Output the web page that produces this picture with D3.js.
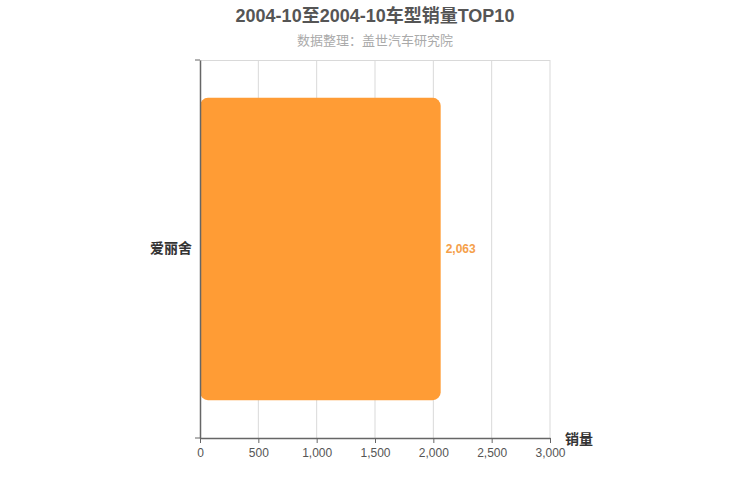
<!DOCTYPE html>
<html>
<head>
<meta charset="utf-8">
<script src="https://cdn.jsdelivr.net/npm/d3@7"></script>
<style>
  body { margin: 0; background: #fff; }
  text { font-family: "Liberation Sans", "Noto Sans CJK SC", sans-serif; }
</style>
</head>
<body>
<div id="chart"></div>
<script>
const F_WIDTH = 750;
const F_HEIGHT = 500;
const MARGINS = {left: 200, right: 200, top: 60, bottom: 62};

const VIS_WIDTH = F_WIDTH - MARGINS.left - MARGINS.right;
const VIS_HEIGHT = F_HEIGHT - MARGINS.top - MARGINS.bottom;

// data
const CATEGORIES = ["爱丽舍"];
const SALES = [2063];
const X_TICKS = [0, 500, 1000, 1500, 2000, 2500, 3000];

const TITLE = "2004-10至2004-10车型销量TOP10";
const SUBTITLE = "数据整理：盖世汽车研究院";

const FRAME = d3.select("#chart")
  .append("svg")
    .attr("width", F_WIDTH)
    .attr("height", F_HEIGHT);

const X_SCALE = d3.scaleLinear()
  .domain([0, 3000])
  .range([0, VIS_WIDTH]);

const Y_SCALE = d3.scaleBand()
  .domain(CATEGORIES)
  .range([0, VIS_HEIGHT])
  .paddingInner(0.2)
  .paddingOuter(0.1);

const G = FRAME.append("g")
  .attr("transform", "translate(" + MARGINS.left + "," + MARGINS.top + ")");

// grid lines
G.selectAll(".grid")
  .data(X_TICKS.slice(1))
  .enter()
  .append("line")
    .attr("x1", d => X_SCALE(d))
    .attr("x2", d => X_SCALE(d))
    .attr("y1", 0)
    .attr("y2", VIS_HEIGHT)
    .attr("stroke", "#d9d9d9")
    .attr("stroke-width", 1);

G.append("line")
  .attr("x1", 0)
  .attr("x2", VIS_WIDTH)
  .attr("y1", 0.5)
  .attr("y2", 0.5)
  .attr("stroke", "#d9d9d9");

// bars
G.selectAll(".bar")
  .data(SALES)
  .enter()
  .append("rect")
    .attr("x", 0)
    .attr("y", (d, i) => Y_SCALE(CATEGORIES[i]))
    .attr("width", d => X_SCALE(d))
    .attr("height", Y_SCALE.bandwidth())
    .attr("rx", 8)
    .attr("fill", "#ff9c35");

// value labels
G.selectAll(".val")
  .data(SALES)
  .enter()
  .append("text")
    .attr("x", d => X_SCALE(d) + 5)
    .attr("y", (d, i) => Y_SCALE(CATEGORIES[i]) + Y_SCALE.bandwidth() / 2)
    .attr("dy", "0.35em")
    .attr("font-size", 12)
    .attr("font-weight", "bold")
    .attr("fill", "#f5a04a")
    .text(d => d3.format(",")(d));

// x-axis
const xAxis = G.append("g")
  .attr("transform", "translate(0," + VIS_HEIGHT + ")")
  .call(d3.axisBottom(X_SCALE).tickValues(X_TICKS).tickFormat(d3.format(",")).tickSize(5).tickSizeOuter(0));
xAxis.select(".domain").attr("stroke", "#666").attr("stroke-width", 1.5);
xAxis.selectAll(".tick line").attr("stroke", "#666");
xAxis.selectAll("text").attr("fill", "#555").attr("font-size", 12).attr("dy", "0.9em");

// y-axis
const yAxis = G.append("g")
  .call(d3.axisLeft(Y_SCALE).tickSize(0).tickPadding(8));
yAxis.select(".domain").attr("stroke", "#666").attr("stroke-width", 1.5);
yAxis.selectAll("text")
  .attr("fill", "#333")
  .attr("font-size", 14)
  .attr("font-weight", "bold");

// y outer ticks at band edges
G.selectAll(".ytick")
  .data([0, VIS_HEIGHT])
  .enter()
  .append("line")
    .attr("x1", -5)
    .attr("x2", 0)
    .attr("y1", d => d)
    .attr("y2", d => d)
    .attr("stroke", "#666");

// axis name
G.append("text")
  .attr("x", VIS_WIDTH + 15)
  .attr("y", VIS_HEIGHT + 6)
  .attr("font-size", 14)
  .attr("font-weight", "bold")
  .attr("fill", "#333")
  .text("销量");

// titles
FRAME.append("text")
  .attr("x", F_WIDTH / 2)
  .attr("y", 22)
  .attr("text-anchor", "middle")
  .attr("font-size", 18)
  .attr("font-weight", "bold")
  .attr("fill", "#555")
  .text(TITLE);

FRAME.append("text")
  .attr("x", F_WIDTH / 2)
  .attr("y", 45)
  .attr("text-anchor", "middle")
  .attr("font-size", 13)
  .attr("fill", "#aaa")
  .text(SUBTITLE);
</script>
</body>
</html>
